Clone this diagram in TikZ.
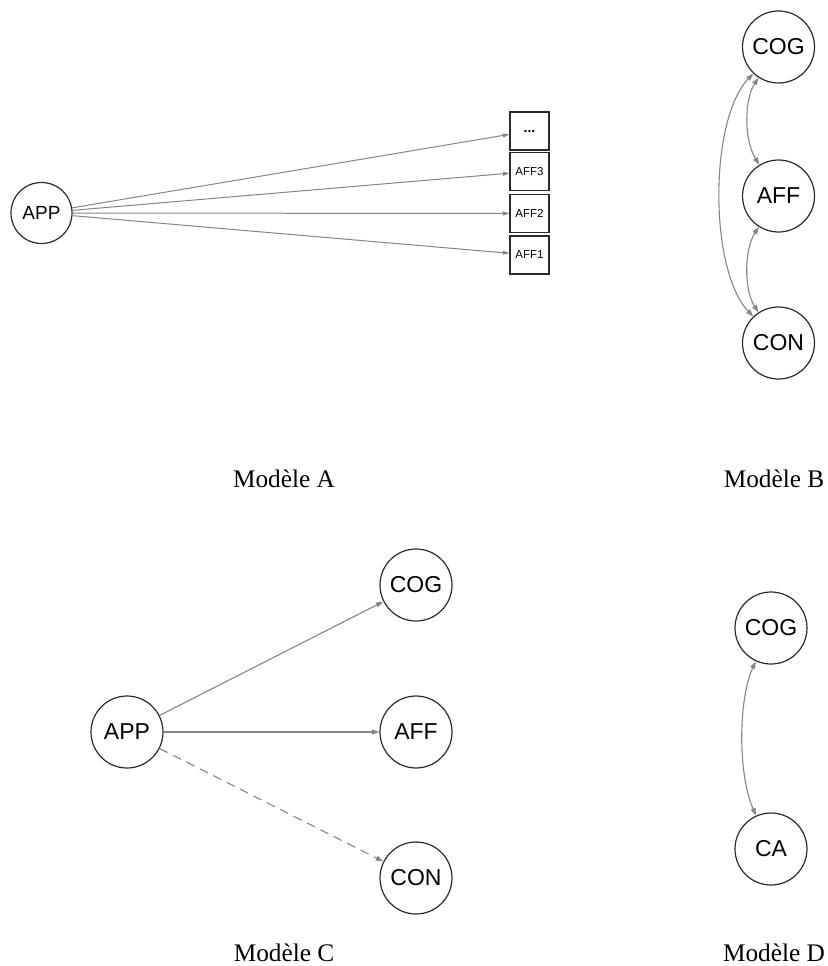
\documentclass[tikz,border=0pt]{standalone}
\usepackage{fontspec}
\setmainfont{Liberation Serif}
\newfontfamily\arialf{Liberation Sans}
\usetikzlibrary{arrows.meta}
\definecolor{edgegray}{HTML}{858585}
\definecolor{nodeline}{HTML}{2A2A2A}
\begin{document}
\begin{tikzpicture}[x=1pt,y=-1pt,
  cnode/.style={circle,draw=nodeline,line width=1.2pt,fill=white,minimum size=72pt,inner sep=0pt,
    font=\arialf\fontsize{23}{23}\selectfont},
  smallc/.style={cnode,minimum size=61pt,font=\arialf\fontsize{19}{19}\selectfont},
  bnode/.style={rectangle,draw=nodeline,line width=1.2pt,fill=white,minimum width=39pt,minimum height=38pt,
    inner sep=0pt,font=\arialf\fontsize{11.5}{11.5}\selectfont},
  link/.style={draw=edgegray,line width=1.1pt,-{Triangle[length=7.5pt,width=5pt]}},
  thin link/.style={link,line width=1pt,-{Triangle[length=6.5pt,width=4pt]}},
  both/.style={link,{Triangle[length=7.5pt,width=5pt]}-{Triangle[length=7.5pt,width=5pt]}},
  caption/.style={anchor=base,font=\fontsize{25.3}{25.3}\selectfont,inner sep=0pt}]
\useasboundingbox (0,0) rectangle (827,966);
% ---------- Modele A ----------
\node[smallc] (appA) at (41.5,213) {APP};
\node[bnode,font=\arialf\fontsize{14}{14}\selectfont] (dots) at (529.5,131) {\textbf{...}};
\node[bnode] (aff3) at (529.5,171.5) {AFF3};
\node[bnode] (aff2) at (529.5,213.5) {AFF2};
\node[bnode] (aff1) at (529.5,255) {AFF1};
\draw[thin link] (appA) -- (dots);
\draw[thin link] (appA) -- (aff3);
\draw[thin link] (appA) -- (aff2);
\draw[thin link] (appA) -- (aff1);
\node[caption] (capA) at (284,487) {Modèle A};
% ---------- Modele B ----------
\node[cnode] (cogB) at (778.5,47) {COG};
\node[cnode] (affB) at (778.5,196) {AFF};
\node[cnode] (conB) at (778.5,343) {CON};
\draw[both] (cogB) .. controls (744,100) and (744,140) .. (affB);
\draw[both] (affB) .. controls (744,250) and (744,290) .. (conB);
\draw[both] (cogB) .. controls (709,120) and (709,270) .. (conB);
\node[caption] (capB) at (774,487) {Modèle B};
% ---------- Modele C ----------
\node[cnode] (appC) at (127,732) {APP};
\node[cnode] (cogC) at (416,585) {COG};
\node[cnode] (affC) at (416,732) {AFF};
\node[cnode] (conC) at (416,878) {CON};
\draw[link] (appC) -- (cogC);
\draw[link] (appC) -- (affC);
\draw[link,dash pattern=on 9pt off 6pt] (appC) -- (conC);
\node[caption] (capC) at (284,961) {Modèle C};
% ---------- Modele D ----------
\node[cnode] (cogD) at (771,628) {COG};
\node[cnode] (caD) at (771,849) {CA};
\draw[both] (cogD) .. controls (738,700) and (738,775) .. (caD);
\node[caption] (capD) at (774,961) {Modèle D};
\end{tikzpicture}
\end{document}
